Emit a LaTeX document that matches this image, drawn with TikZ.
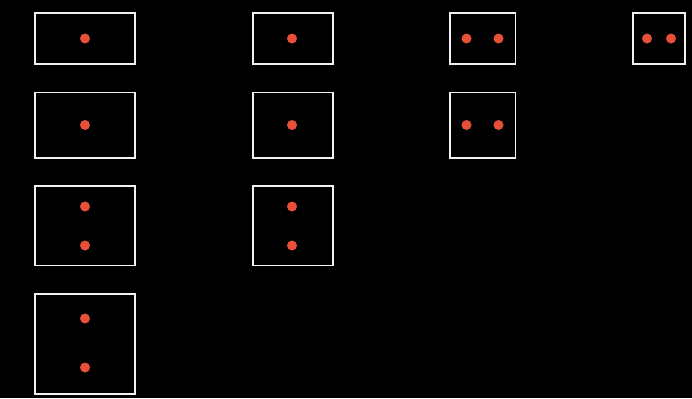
\documentclass[tikz,border=0pt]{standalone}
\definecolor{dotred}{HTML}{E9503A}
\definecolor{boxline}{HTML}{F2F2F2}
\begin{document}
\begin{tikzpicture}[x=1bp,y=-1bp,
  cellbox/.style={draw=boxline,line width=1.8bp},
  reddot/.style={circle,fill=dotred,inner sep=0pt,minimum size=10bp}]
\fill[black] (0,0) rectangle (692,398);
\useasboundingbox (0,0) rectangle (692,398);
% row 1
\draw[cellbox] (35,13) rectangle (135,64);
\node[reddot] (d11) at (85,38.5) {};
\draw[cellbox] (253,13) rectangle (333,64);
\node[reddot] (d12) at (292,38.5) {};
\draw[cellbox] (450,13) rectangle (515.5,64);
\node[reddot] (d13a) at (466.5,38.5) {};
\node[reddot] (d13b) at (498.5,38.5) {};
\draw[cellbox] (633,13) rectangle (685,64);
\node[reddot] (d14a) at (647,38.5) {};
\node[reddot] (d14b) at (671,38.5) {};
% row 2
\draw[cellbox] (35,92.5) rectangle (135,158);
\node[reddot] (d21) at (85,125) {};
\draw[cellbox] (253,92.5) rectangle (333,158);
\node[reddot] (d22) at (292,125) {};
\draw[cellbox] (450,92.5) rectangle (515.5,158);
\node[reddot] (d23a) at (466.5,125) {};
\node[reddot] (d23b) at (498.5,125) {};
% row 3
\draw[cellbox] (35,186) rectangle (135,265.5);
\node[reddot] (d31a) at (85,206.5) {};
\node[reddot] (d31b) at (85,245.5) {};
\draw[cellbox] (253,186) rectangle (333,265.5);
\node[reddot] (d32a) at (292,206.5) {};
\node[reddot] (d32b) at (292,245.5) {};
% row 4
\draw[cellbox] (35,294) rectangle (135,394);
\node[reddot] (d41a) at (85,318.5) {};
\node[reddot] (d41b) at (85,367.5) {};
\end{tikzpicture}
\end{document}
